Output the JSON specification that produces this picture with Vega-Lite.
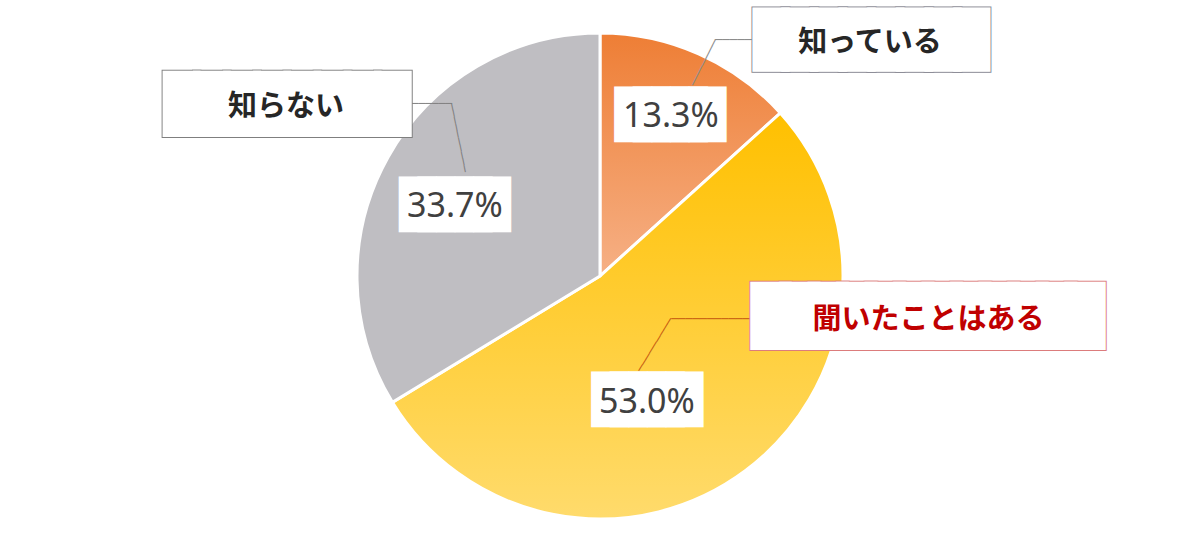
{
  "$schema": "https://vega.github.io/schema/vega-lite/v6.json",
  "width": 1200,
  "height": 552,
  "autosize": {"type": "none"},
  "padding": 0,
  "background": "white",
  "config": {"view": {"stroke": null}},
  "data": {"values": [
    {"category": "知っている", "value": 0.133, "order": 1},
    {"category": "聞いたことはある", "value": 0.530, "order": 2},
    {"category": "知らない", "value": 0.337, "order": 3}
  ]},
  "encoding": {
    "theta": {"field": "value", "type": "quantitative", "stack": true},
    "order": {"field": "order", "type": "quantitative"}
  },
  "layer": [
    {
      "mark": {"type": "arc", "outerRadius": 243, "stroke": "white", "strokeWidth": 3},
      "encoding": {
        "fill": {
          "condition": [
            {"test": "datum.category === '知っている'", "value": {"gradient": "linear", "x1": 0, "y1": 0, "x2": 0, "y2": 1, "stops": [{"offset": 0, "color": "#EE7E35"}, {"offset": 1, "color": "#F6B085"}]}},
            {"test": "datum.category === '聞いたことはある'", "value": {"gradient": "linear", "x1": 0, "y1": 0, "x2": 0, "y2": 1, "stops": [{"offset": 0, "color": "#FFC000"}, {"offset": 1, "color": "#FFDB6C"}]}}
          ],
          "value": "#BFBEC2"
        }
      }
    },
    {
      "mark": {"type": "text", "radius": 360, "dx": -122.1, "dy": 14.5, "angle": -63.2, "font": "DejaVu Sans Mono", "fontSize": 12.1, "fill": "#8C8C8C", "align": "center", "baseline": "middle"},
      "encoding": {"text": {"condition": {"test": "datum.category === '知っている'", "value": "───────"}, "value": ""}}
    },
    {
      "mark": {"type": "text", "radius": 360, "dx": -12.6, "dy": 93.1, "font": "DejaVu Sans Mono", "fontSize": 12.3, "fill": "#8C8C8C", "align": "center", "baseline": "middle"},
      "encoding": {"text": {"condition": {"test": "datum.category === '知っている'", "value": "─────"}, "value": ""}}
    },
    {
      "mark": {"type": "text", "radius": 360, "dx": 71.6, "dy": -161.2, "angle": 78.5, "font": "DejaVu Sans Mono", "fontSize": 11.7, "fill": "#7F7F7F", "align": "center", "baseline": "middle"},
      "encoding": {"text": {"condition": {"test": "datum.category === '知らない'", "value": "──────────"}, "value": ""}}
    },
    {
      "mark": {"type": "text", "radius": 360, "dx": 145.8, "dy": 4.0, "font": "DejaVu Sans Mono", "fontSize": 11.1, "fill": "#7F7F7F", "align": "center", "baseline": "middle"},
      "encoding": {"text": {"condition": {"test": "datum.category === '知らない'", "value": "──────"}, "value": ""}}
    },
    {
      "mark": {"type": "text", "radius": 360, "dx": 104.2, "dy": -250.7, "angle": -58.6, "font": "DejaVu Sans Mono", "fontSize": 11.35, "fill": "#C55A11", "align": "center", "baseline": "middle"},
      "encoding": {"text": {"condition": {"test": "datum.category === '聞いたことはある'", "value": "─────────"}, "value": ""}}
    },
    {
      "mark": {"type": "text", "radius": 360, "dx": -104.7, "dy": -245.5, "font": "DejaVu Sans Mono", "fontSize": 11.9, "fill": "#C55A11", "align": "center", "baseline": "middle"},
      "encoding": {"text": {"condition": {"test": "datum.category === '聞いたことはある'", "value": "───────────"}, "value": ""}}
    },
    {
      "mark": {"type": "text", "radius": 165, "dx": 3.5, "dy": -9.3, "font": "DejaVu Sans Mono", "fontSize": 30.9, "fill": "white", "stroke": "white", "strokeWidth": 19, "strokeJoin": "miter", "align": "center", "baseline": "middle"},
      "encoding": {"text": {"condition": {"test": "datum.category === '知っている'", "value": "█████"}, "value": ""}}
    },
    {
      "mark": {"type": "text", "radius": 165, "dx": -51.2, "dy": -6.9, "font": "DejaVu Sans Mono", "fontSize": 30.9, "fill": "white", "stroke": "white", "strokeWidth": 19, "strokeJoin": "miter", "align": "center", "baseline": "middle"},
      "encoding": {"text": {"condition": {"test": "datum.category === '聞いたことはある'", "value": "█████"}, "value": ""}}
    },
    {
      "mark": {"type": "text", "radius": 165, "dx": -1.2, "dy": 10.75, "font": "DejaVu Sans Mono", "fontSize": 30.9, "fill": "white", "stroke": "white", "strokeWidth": 19, "strokeJoin": "miter", "align": "center", "baseline": "middle"},
      "encoding": {"text": {"condition": {"test": "datum.category === '知らない'", "value": "█████"}, "value": ""}}
    },
    {
      "mark": {"type": "text", "radius": 165, "dx": 4, "dy": -7.7, "font": "Liberation Sans Narrow, Noto Sans", "fontSize": 34, "fill": "#404040", "align": "center", "baseline": "middle"},
      "encoding": {"text": {"condition": {"test": "datum.category === '知っている'", "field": "value", "type": "quantitative", "format": ".1%"}, "value": ""}}
    },
    {
      "mark": {"type": "text", "radius": 165, "dx": -51.7, "dy": -4.8, "font": "Liberation Sans Narrow, Noto Sans", "fontSize": 34, "fill": "#404040", "align": "center", "baseline": "middle"},
      "encoding": {"text": {"condition": {"test": "datum.category === '聞いたことはある'", "field": "value", "type": "quantitative", "format": ".1%"}, "value": ""}}
    },
    {
      "mark": {"type": "text", "radius": 165, "dx": -1.2, "dy": 11.85, "font": "Liberation Sans Narrow, Noto Sans", "fontSize": 34, "fill": "#404040", "align": "center", "baseline": "middle"},
      "encoding": {"text": {"condition": {"test": "datum.category === '知らない'", "field": "value", "type": "quantitative", "format": ".1%"}, "value": ""}}
    },
    {
      "mark": {"type": "text", "radius": 360, "dx": 125.4, "dy": 94.7, "font": "DejaVu Sans Mono", "fontSize": 47.6, "fill": "#8C8C96", "stroke": "#8C8C96", "strokeWidth": 9.6, "strokeJoin": "miter", "align": "center", "baseline": "middle"},
      "encoding": {"text": {"condition": {"test": "datum.category === '知っている'", "value": "████████"}, "value": ""}}
    },
    {
      "mark": {"type": "text", "radius": 360, "dx": 125.4, "dy": 94.7, "font": "DejaVu Sans Mono", "fontSize": 47.6, "fill": "white", "stroke": "white", "strokeWidth": 7.6, "strokeJoin": "miter", "align": "center", "baseline": "middle"},
      "encoding": {"text": {"condition": {"test": "datum.category === '知っている'", "value": "████████"}, "value": ""}}
    },
    {
      "mark": {"type": "text", "radius": 360, "dx": 0.8, "dy": 6.2, "font": "DejaVu Sans Mono", "fontSize": 50.1, "fill": "#7F7F7F", "stroke": "#7F7F7F", "strokeWidth": 8.7, "strokeJoin": "miter", "align": "center", "baseline": "middle"},
      "encoding": {"text": {"condition": {"test": "datum.category === '知らない'", "value": "████████"}, "value": ""}}
    },
    {
      "mark": {"type": "text", "radius": 360, "dx": 0.8, "dy": 6.2, "font": "DejaVu Sans Mono", "fontSize": 50.1, "fill": "white", "stroke": "white", "strokeWidth": 6.7, "strokeJoin": "miter", "align": "center", "baseline": "middle"},
      "encoding": {"text": {"condition": {"test": "datum.category === '知らない'", "value": "████████"}, "value": ""}}
    },
    {
      "mark": {"type": "text", "radius": 360, "dx": 112.8, "dy": -246.9, "font": "DejaVu Sans Mono", "fontSize": 47.4, "fill": "#DC7C7C", "stroke": "#DC7C7C", "strokeWidth": 13.9, "strokeJoin": "miter", "align": "center", "baseline": "middle"},
      "encoding": {"text": {"condition": {"test": "datum.category === '聞いたことはある'", "value": "████████████"}, "value": ""}}
    },
    {
      "mark": {"type": "text", "radius": 360, "dx": 112.8, "dy": -246.9, "font": "DejaVu Sans Mono", "fontSize": 47.4, "fill": "white", "stroke": "white", "strokeWidth": 11.9, "strokeJoin": "miter", "align": "center", "baseline": "middle"},
      "encoding": {"text": {"condition": {"test": "datum.category === '聞いたことはある'", "value": "████████████"}, "value": ""}}
    },
    {
      "mark": {"type": "text", "radius": 360, "dx": 123.9, "dy": 96.3, "font": "Noto Sans CJK JP", "fontWeight": "bold", "fontSize": 29, "fill": "#262626", "align": "center", "baseline": "middle"},
      "encoding": {"text": {"condition": {"test": "datum.category === '知っている'", "field": "category", "type": "nominal"}, "value": ""}}
    },
    {
      "mark": {"type": "text", "radius": 360, "dx": -0.2, "dy": 7.2, "font": "Noto Sans CJK JP", "fontWeight": "bold", "fontSize": 29, "fill": "#262626", "align": "center", "baseline": "middle"},
      "encoding": {"text": {"condition": {"test": "datum.category === '知らない'", "field": "category", "type": "nominal"}, "value": ""}}
    },
    {
      "mark": {"type": "text", "radius": 360, "dx": 113.3, "dy": -244.8, "font": "Noto Sans CJK JP", "fontWeight": "bold", "fontSize": 29, "fill": "#C00000", "align": "center", "baseline": "middle"},
      "encoding": {"text": {"condition": {"test": "datum.category === '聞いたことはある'", "field": "category", "type": "nominal"}, "value": ""}}
    }
  ]
}
